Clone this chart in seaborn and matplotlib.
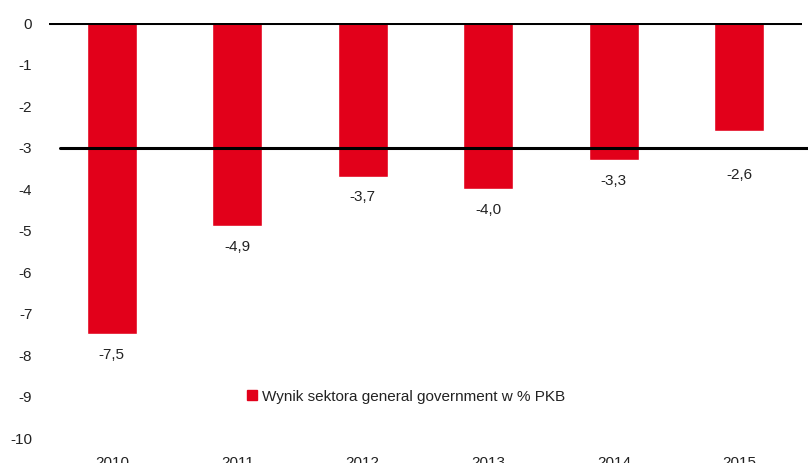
import numpy as np
import pandas as pd
import seaborn as sns
import matplotlib.pyplot as plt
from matplotlib.lines import Line2D

years = ['2010', '2011', '2012', '2013', '2014', '2015']
deficit = [-7.5, -4.9, -3.7, -4.0, -3.3, -2.6]
value_labels = ['-7,5', '-4,9', '-3,7', '-4,0', '-3,3', '-2,6']
yticks = [0, -1, -2, -3, -4, -5, -6, -7, -8, -9, -10]
series_name = 'Wynik sektora general government w % PKB'
red = '#E2001A'

sns.set_style('white')
plt.rcParams['font.family'] = ['Liberation Sans', 'DejaVu Sans']

df = pd.DataFrame({'rok': years, 'wynik': deficit})

fig = plt.figure(figsize=(8.08, 4.63), dpi=100)
ax = fig.add_axes([49 / 808, 1 - 438 / 463, 753 / 808, 415 / 463])

sns.barplot(data=df, x='rok', y='wynik', color=red, width=0.4, saturation=1,
            ax=ax, label=series_name)

ax.set_ylim(-10, 0)
ax.set_xlim(-0.5, 5.5)
ax.set_yticks(yticks)
ax.set_yticklabels([str(t) for t in yticks])
ax.tick_params(axis='both', length=0, labelsize=11, colors='#222222')
ax.tick_params(axis='y', pad=12)
ax.tick_params(axis='x', pad=13)
ax.set_xlabel('')
ax.set_ylabel('')
for s in ax.spines.values():
    s.set_visible(False)

# reference lines (0 and the -3 deficit limit)
ax.axhline(0, color='black', lw=2.2, zorder=5)
ax.axhline(-3, xmin=11 / 753, xmax=759 / 753, color='black', lw=2.2, zorder=5, clip_on=False)

for i, (yr, v, lab) in enumerate(zip(years, deficit, value_labels)):
    off = -10
    if yr == '2015':
        off = -27  # label pushed below the -3 line, as in the original
    ax.annotate(lab, (i, v), xytext=(0, off), textcoords='offset points',
                ha='center', va='top', fontsize=11, color='#222222')

handle = Line2D([], [], marker='s', color=red, linestyle='none', markersize=7)
ax.legend([handle], [series_name], loc='center left', bbox_to_anchor=(182 / 753, 0.1),
          frameon=False, fontsize=11, handletextpad=0.1, handlelength=1.0,
          labelcolor='#222222')

fig.savefig('out.png', dpi=100)
